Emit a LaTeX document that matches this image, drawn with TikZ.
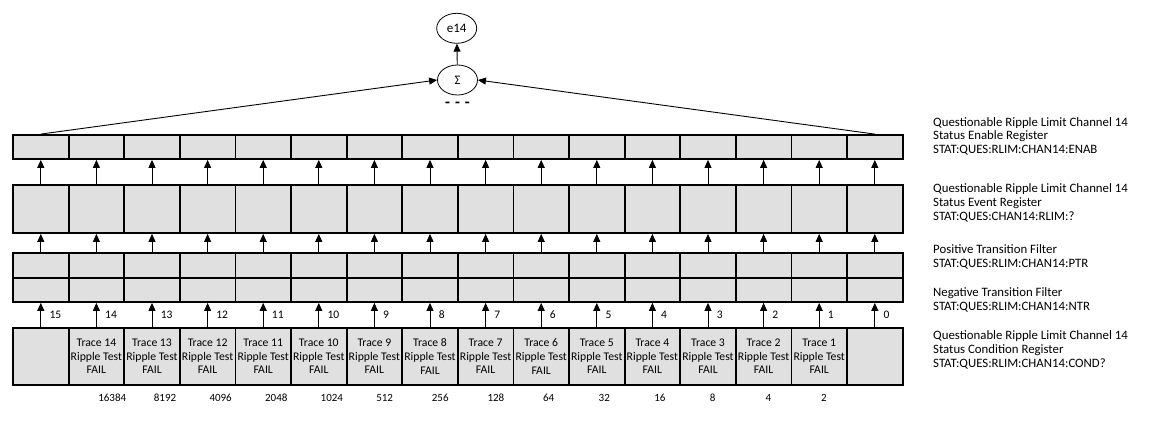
\documentclass[tikz,border=0pt]{standalone}
\usepackage{fontspec}
\setmainfont{Carlito}
\usetikzlibrary{arrows.meta,shapes.geometric}
\definecolor{cellgray}{RGB}{224,224,224}
\tikzset{
  cell/.style={draw, line width=1.8pt, fill=cellgray, minimum width=55.6pt, inner sep=0pt,
    align=center, font=\fontsize{11.7}{13.7}\selectfont},
  bitarr/.style={-{Triangle[width=7pt,length=8pt]}, line width=0.9pt},
  bitnum/.style={right, xshift=5pt, font=\fontsize{11.5}{13}\selectfont},
  weight/.style={anchor=west, inner sep=0pt, font=\fontsize{11}{13}\selectfont},
  regtext/.style={anchor=west, align=left, inner sep=0pt, font=\fontsize{12.8}{13.6}\selectfont},
  sumnode/.style={ellipse, draw, line width=0.8pt, minimum width=40pt, minimum height=30pt,
    inner sep=0pt, font=\fontsize{13}{13}\selectfont}
}
\begin{document}
\begin{tikzpicture}[x=1pt,y=-1pt]
  \useasboundingbox (0,0) rectangle (1163,435);
  % register rows, bit 15 on the left
  \foreach \i in {0,...,15}{
    \pgfmathsetmacro{\xc}{13+55.6*(15.5-\i)}
    \node[cell, minimum height=24pt] (en\i) at (\xc,147) {};
    \node[cell, minimum height=48pt] (ev\i) at (\xc,209) {};
    \node[cell, minimum height=25pt] (pt\i) at (\xc,265.5) {};
    \node[cell, minimum height=24pt] (nt\i) at (\xc,290) {};
  }
  \node[cell, minimum height=57pt] (co15) at ({13+55.6*0.5},356.5) {};
  \node[cell, minimum height=57pt] (co0) at ({13+55.6*15.5},356.5) {};
  \foreach \i in {1,...,14}{
    \pgfmathsetmacro{\xc}{13+55.6*(15.5-\i)}
    \node[cell, minimum height=57pt] (co\i) at (\xc,356.5) {Trace \i\\Ripple Test\\FAIL};
  }
  % bit weights
  \foreach \i/\w in {14/16384,13/8192,12/4096,11/2048,10/1024,9/512,8/256,7/128,6/64,5/32,4/16,3/8,2/4,1/2}
    \node[weight] (w\i) at ([xshift=1.7pt,yshift=-12pt]co\i.south) {\w};
  % arrows between registers
  \foreach \i in {0,...,15}{
    \draw[bitarr] (ev\i.north) -- (en\i.south);
    \draw[bitarr] (pt\i.north) -- (ev\i.south);
    \draw[bitarr] (co\i.north) -- node[bitnum] {\i} (nt\i.south);
  }
  % summary
  \node[sumnode] (sum) at (457.5,80) {Σ};
  \node[sumnode] (e14) at (456.7,28.3) {e14};
  \node[font=\bfseries\fontsize{16}{16}\selectfont] (dots) at (457.5,105) {-\hspace{5pt}-\hspace{5pt}-};
  \draw[bitarr] (sum) -- (e14);
  \draw[bitarr] (en15.north) -- (sum.west);
  \draw[bitarr] (en0.north) -- (sum.east);
  % register names
  \node[regtext] (t1) at (933,136.3) {Questionable Ripple Limit Channel 14\\Status Enable Register\\STAT:QUES:RLIM:CHAN14:ENAB};
  \node[regtext] (t2) at (933,203) {Questionable Ripple Limit Channel 14\\Status Event Register\\STAT:QUES:CHAN14:RLIM:?};
  \node[regtext] (t3) at (933,256.7) {Positive Transition Filter\\STAT:QUES:RLIM:CHAN14:PTR};
  \node[regtext] (t4) at (933,300) {Negative Transition Filter\\STAT:QUES:RLIM:CHAN14:NTR};
  \node[regtext] (t5) at (933,350) {Questionable Ripple Limit Channel 14\\Status Condition Register\\STAT:QUES:RLIM:CHAN14:COND?};
\end{tikzpicture}
\end{document}
